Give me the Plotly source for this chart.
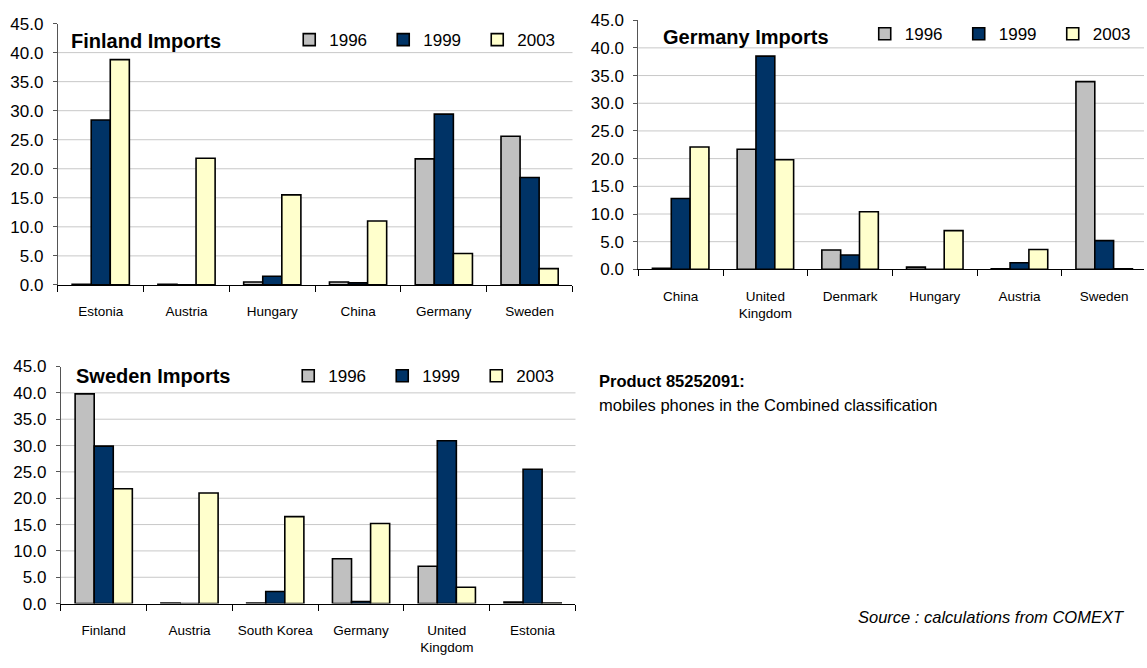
import plotly.graph_objects as go

W, H = 1147, 668
FONT = "Liberation Sans, Arial, sans-serif"

years = ["1996", "1999", "2003"]
bar_colors = ["#C0C0C0", "#003366", "#FFFFCC"]
y_ticks = [0, 5, 10, 15, 20, 25, 30, 35, 40, 45]

fin_countries = ["Estonia", "Austria", "Hungary", "China", "Germany", "Sweden"]
fin_1996 = [0.1, 0.1, 0.5, 0.5, 21.7, 25.6]
fin_1999 = [28.4, 0.0, 1.5, 0.35, 29.4, 18.5]
fin_2003 = [38.8, 21.8, 15.5, 11.0, 5.4, 2.8]

ger_countries = ["China", "United<br>Kingdom", "Denmark", "Hungary", "Austria", "Sweden"]
ger_1996 = [0.2, 21.7, 3.5, 0.4, 0.1, 33.9]
ger_1999 = [12.8, 38.5, 2.6, 0.0, 1.2, 5.2]
ger_2003 = [22.1, 19.8, 10.4, 7.0, 3.6, 0.1]

swe_countries = ["Finland", "Austria", "South Korea", "Germany", "United<br>Kingdom", "Estonia"]
swe_1996 = [39.8, 0.1, 0.1, 8.5, 7.1, 0.3]
swe_1999 = [29.9, 0.0, 2.3, 0.4, 30.9, 25.5]
swe_2003 = [21.8, 21.0, 16.5, 15.2, 3.1, 0.1]

panels = [
    dict(sfx="", title="Finland Imports", cats=fin_countries,
         series=[fin_1996, fin_1999, fin_2003],
         xpx=(58, 574), ypx=(15, 284), xrange=[-0.5, 5.5],
         tpos=(146, 33), lpos=(290, 32)),
    dict(sfx="2", title="Germany Imports", cats=ger_countries,
         series=[ger_1996, ger_1999, ger_2003],
         xpx=(640, 1147), ypx=(11.5, 268), xrange=[-0.5, 5.47],
         tpos=(748, 29), lpos=(867, 26)),
    dict(sfx="3", title="Sweden Imports", cats=swe_countries,
         series=[swe_1996, swe_1999, swe_2003],
         xpx=(61, 577), ypx=(368, 612), xrange=[-0.5, 5.5],
         tpos=(153, 378), lpos=(289, 378)),
]


def px_x(v):
    return v / W


def px_y(v):
    return 1 - v / H


fig = go.Figure()
shapes = []
annotations = []
layout = dict(
    width=W, height=H,
    margin=dict(l=0, r=0, t=0, b=0),
    paper_bgcolor="white", plot_bgcolor="white",
    barmode="group", bargap=0.333, bargroupgap=0,
    font=dict(family=FONT, size=17, color="black"),
    showlegend=True,
)

for i, p in enumerate(panels):
    sfx = p["sfx"]
    leg = "legend" + sfx
    for yr, col, vals in zip(years, bar_colors, p["series"]):
        fig.add_trace(go.Bar(
            x=p["cats"], y=vals, name=yr,
            marker=dict(color=col, line=dict(color="black", width=1.6)),
            xaxis="x" + sfx, yaxis="y" + sfx, legend=leg,
            hovertemplate="%{x}: %{y:.1f}<extra>" + yr + "</extra>",
        ))
    layout["xaxis" + sfx] = dict(
        domain=[px_x(p["xpx"][0]), px_x(p["xpx"][1])],
        anchor="y" + sfx, type="category", range=p["xrange"],
        showline=True, linecolor="black", linewidth=1,
        ticks="outside", tickson="boundaries", ticklen=6, tickcolor="black",
        tickangle=0,
        tickfont=dict(size=13.5, family=FONT, color="black"),
        ticklabelstandoff=14, showgrid=False, zeroline=False, fixedrange=True,
    )
    layout["yaxis" + sfx] = dict(
        domain=[px_y(p["ypx"][1]), px_y(p["ypx"][0])],
        anchor="x" + sfx, range=[0, 45],
        tickvals=y_ticks, tickformat=".1f",
        showline=True, linecolor="#555555", linewidth=1,
        ticks="outside", ticklen=4, tickcolor="#555555",
        tickfont=dict(size=17, family=FONT, color="black"),
        ticklabelstandoff=6, showgrid=False, zeroline=False, fixedrange=True,
    )
    for v in y_ticks[1:-1]:
        shapes.append(dict(
            type="line", xref="x" + sfx + " domain", yref="y" + sfx,
            x0=0, x1=1, y0=v, y1=v, layer="below",
            line=dict(color="#C8C8C8", width=1),
        ))
    annotations.append(dict(
        text="<b>" + p["title"] + "</b>", xref="paper", yref="paper",
        x=px_x(p["tpos"][0]), y=px_y(p["tpos"][1]),
        xanchor="center", yanchor="middle", showarrow=False,
        font=dict(size=20, family=FONT, color="black"),
    ))
    layout[leg] = dict(
        orientation="h", xref="paper", yref="paper",
        x=px_x(p["lpos"][0]), y=px_y(p["lpos"][1]),
        xanchor="left", yanchor="middle",
        bgcolor="rgba(0,0,0,0)", borderwidth=0,
        font=dict(size=17, family=FONT, color="black"),
        entrywidth=49, entrywidthmode="pixels", itemwidth=30,
        traceorder="normal", itemclick=False, itemdoubleclick=False,
    )

annotations += [
    dict(text="<b>Product 85252091:</b>", xref="paper", yref="paper",
         x=px_x(599), y=px_y(383), xanchor="left", yanchor="middle",
         showarrow=False, font=dict(size=16.5, family=FONT, color="black")),
    dict(text="mobiles phones in the Combined classification", xref="paper", yref="paper",
         x=px_x(599), y=px_y(408), xanchor="left", yanchor="middle",
         showarrow=False, font=dict(size=16.5, family=FONT, color="black")),
    dict(text="<i>Source : calculations from COMEXT</i>", xref="paper", yref="paper",
         x=px_x(1130), y=px_y(626), xanchor="right", yanchor="middle",
         showarrow=False, font=dict(size=16.5, family=FONT, color="black")),
]

layout["shapes"] = shapes
layout["annotations"] = annotations
fig.update_layout(**layout)
fig.write_html("out.html", config={"displayModeBar": False})
